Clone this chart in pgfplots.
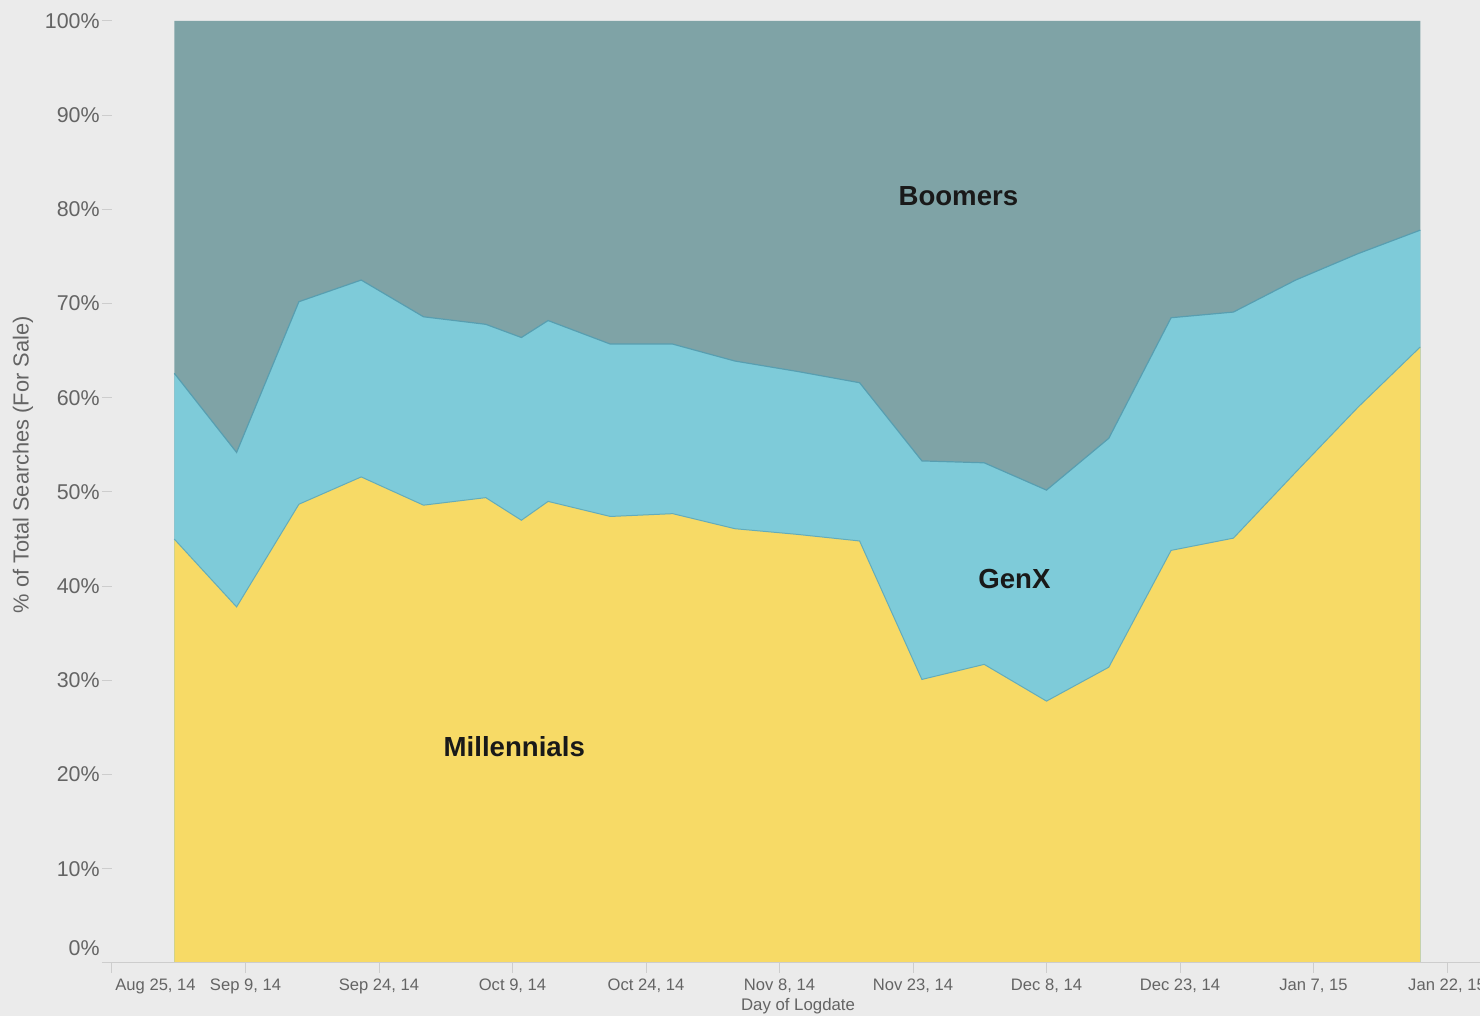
\documentclass[border=0pt]{standalone}
\usepackage{pgfplots}
\usepackage{pgfplotstable}
\pgfplotsset{compat=1.18}
\usepackage{fontspec}
\setmainfont{Liberation Sans}
\definecolor{bgc}{RGB}{235,235,235}
\definecolor{boomc}{RGB}{127,163,166}
\definecolor{genxc}{RGB}{126,203,217}
\definecolor{millc}{RGB}{247,218,102}
\definecolor{edgec}{RGB}{88,158,176}
\definecolor{labc}{RGB}{100,100,100}
\definecolor{tickc}{RGB}{205,205,205}

\pgfplotstableread{
day M MG T
7 45.0 62.6 100
14 37.8 54.2 100
21 48.7 70.2 100
28 51.6 72.5 100
35 48.6 68.6 100
42 49.4 67.8 100
46 47.0 66.4 100
49 49.0 68.2 100
56 47.4 65.7 100
63 47.7 65.7 100
70 46.1 63.9 100
77 45.5 62.8 100
84 44.8 61.6 100
91 30.1 53.3 100
98 31.7 53.1 100
105 27.8 50.2 100
112 31.4 55.7 100
119 43.8 68.5 100
126 45.1 69.1 100
133 52.1 72.5 100
140 59.0 75.3 100
147 65.4 77.8 100
}\datatable

\begin{document}
\begin{tikzpicture}
\fill[bgc] (0,0) rectangle (740pt,508pt);
\begin{axis}[
  at={(56pt,26.5pt)}, anchor=south west,
  scale only axis, width=667.5pt, height=471pt,
  xmin=0, xmax=150, ymin=0, ymax=100,
  axis line style={draw=none},
  no markers,
  tick align=outside, major tick length=5pt,
  tick style={draw=tickc, line width=0.5pt},
  xtick pos=bottom, ytick pos=left,
  xtick={15,30,...,150},
  xticklabels={{Sep 9, 14},{Sep 24, 14},{Oct 9, 14},{Oct 24, 14},{Nov 8, 14},{Nov 23, 14},{Dec 8, 14},{Dec 23, 14},{Jan 7, 15},{Jan 22, 15}},
  extra x ticks={0},
  extra x tick labels={Aug 25{,} 14},
  extra x tick style={xticklabel style={anchor=north west, xshift=1.5pt}},
  ytick={10,20,...,100},
  yticklabels={10\%,20\%,30\%,40\%,50\%,60\%,70\%,80\%,90\%,100\%},
  extra y ticks={0},
  extra y tick labels={0\%},
  extra y tick style={yticklabel style={yshift=7.5pt}},
  xticklabel style={font=\fontsize{8.3}{10}\selectfont, text=labc, inner sep=0pt, anchor=north, yshift=-3pt},
  yticklabel style={font=\fontsize{10.7}{12}\selectfont, text=labc, inner sep=0pt, anchor=east, xshift=-1pt},
]
\addplot[fill=boomc, draw=none] table[x=day, y=T] {\datatable} \closedcycle;
\addplot[fill=genxc, draw=none] table[x=day, y=MG] {\datatable} \closedcycle;
\addplot[fill=millc, draw=none] table[x=day, y=M] {\datatable} \closedcycle;
\addplot[edgec, line width=0.6pt] table[x=day, y=MG] {\datatable};
\addplot[edgec!70!genxc, line width=0.5pt] table[x=day, y=M] {\datatable};
\node[font=\fontsize{13.8}{16}\selectfont\bfseries, text=black!90] at (axis cs:95.1,81.4) {Boomers};
\node[font=\fontsize{13.8}{16}\selectfont\bfseries, text=black!90] at (axis cs:101.4,40.8) {GenX};
\node[font=\fontsize{13.8}{16}\selectfont\bfseries, text=black!90] at (axis cs:45.2,23.0) {Millennials};
\end{axis}
\draw[tickc, line width=0.5pt] (51pt,26.5pt) -- (740pt,26.5pt);
\node[rotate=90, font=\fontsize{10.9}{12}\selectfont, text=labc] at (11.5pt,275.5pt) {\% of Total Searches (For Sale)};
\node[font=\fontsize{8.4}{10}\selectfont, text=labc] at (399pt,5pt) {Day of Logdate};
\pgfresetboundingbox
\useasboundingbox (0,0) rectangle (740pt,508pt);
\end{tikzpicture}
\end{document}
